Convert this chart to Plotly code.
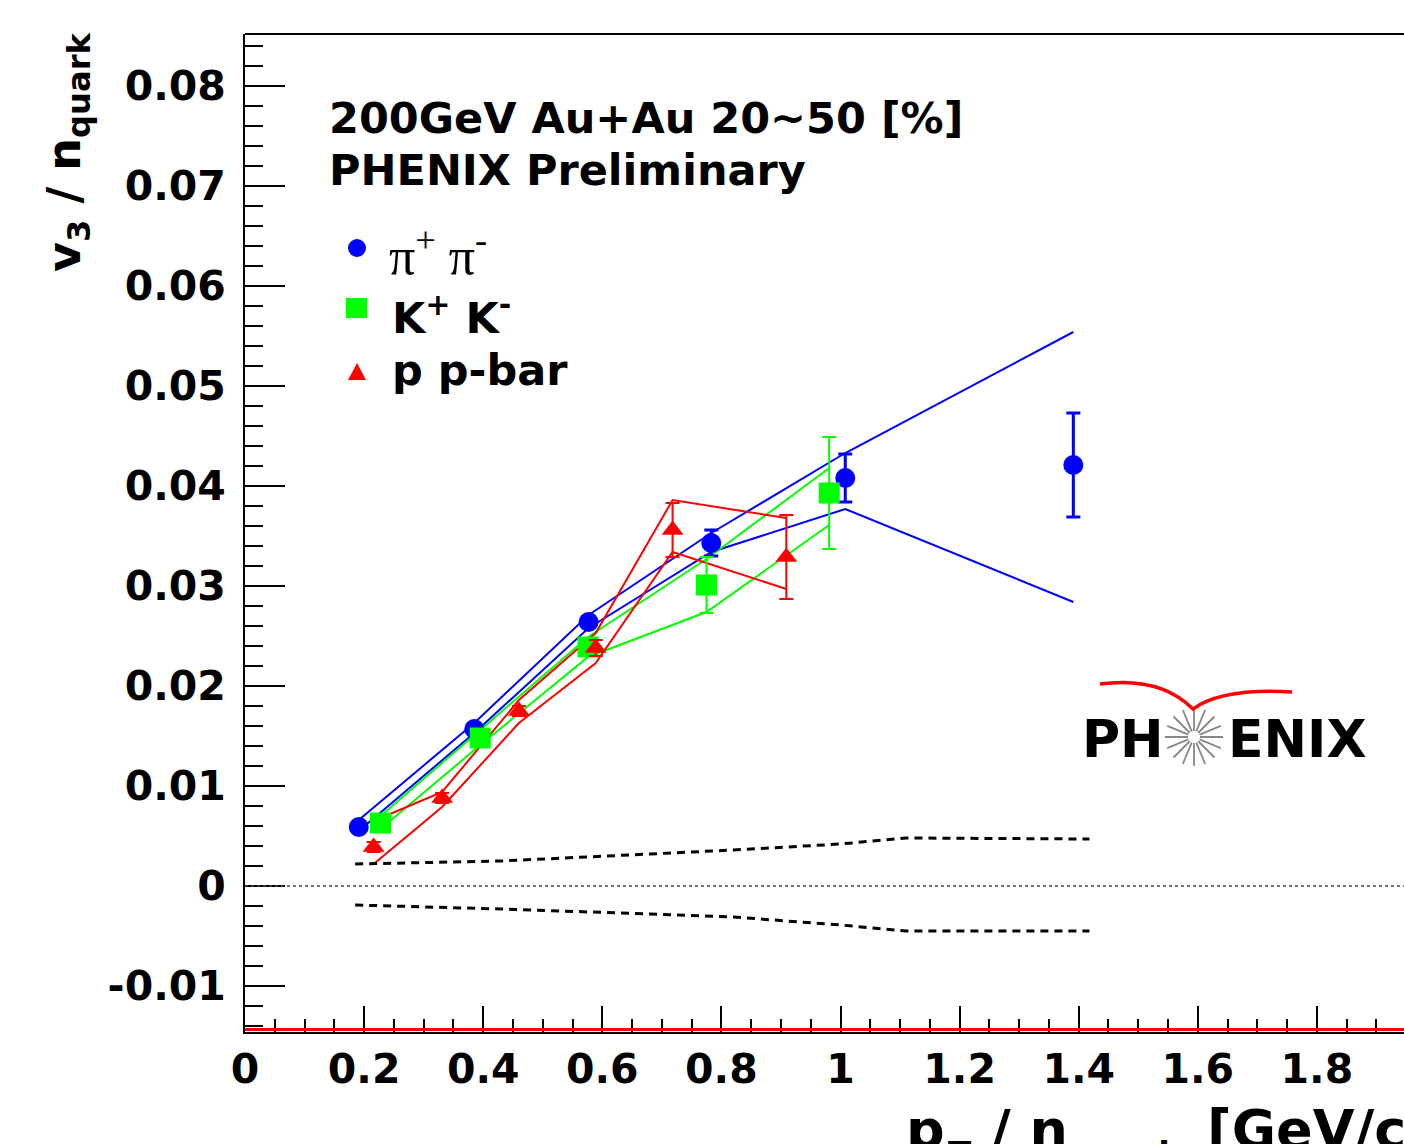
import math
import plotly.graph_objects as go

# ---------------- data ----------------
pi_x = [0.191, 0.385, 0.577, 0.783, 1.008, 1.391]
pi_y = [0.0059, 0.0157, 0.0264, 0.0343, 0.0408, 0.0421]
pi_err = [0.0003, 0.0004, 0.0005, 0.0013, 0.0024, 0.0052]
pi_sys_hi = [0.0066, 0.0163, 0.0271, 0.0353, 0.0433, 0.0554]
pi_sys_lo = [0.0055, 0.0153, 0.0258, 0.0334, 0.0377, 0.0284]

k_x = [0.2275, 0.395, 0.576, 0.775, 0.981]
k_y = [0.0063, 0.0148, 0.0239, 0.0301, 0.0393]
k_err = [0.0004, 0.0005, 0.0008, 0.0028, 0.0056]
k_sys_hi = [0.0070, 0.0156, 0.0249, 0.0327, 0.0418]
k_sys_lo = [0.0057, 0.0141, 0.0229, 0.0274, 0.0361]

p_x = [0.216, 0.331, 0.460, 0.589, 0.718, 0.909]
p_y = [0.0039, 0.0088, 0.0175, 0.0238, 0.0356, 0.0329]
p_err = [0.0005, 0.0005, 0.0005, 0.0008, 0.0027, 0.0042]
p_sys_hi = [0.0065, 0.0094, 0.0186, 0.0253, 0.0386, 0.0368]
p_sys_lo = [0.0022, 0.0079, 0.0163, 0.0223, 0.0334, 0.0297]

rp_x = [0.185, 0.43, 0.68, 0.82, 1.0, 1.11, 1.418]
rp_hi = [0.0022, 0.0025, 0.0032, 0.0036, 0.0042, 0.0048, 0.0047]
rp_lo = [-0.0019, -0.0023, -0.0028, -0.0031, -0.0039, -0.0045, -0.0045]

x_tickvals = [0, 0.2, 0.4, 0.6, 0.8, 1.0, 1.2, 1.4, 1.6, 1.8]
x_ticktext = ["0", "0.2", "0.4", "0.6", "0.8", "1", "1.2", "1.4", "1.6", "1.8"]
y_tickvals = [-0.01, 0, 0.01, 0.02, 0.03, 0.04, 0.05, 0.06, 0.07, 0.08]
y_ticktext = ["-0.01", "0", "0.01", "0.02", "0.03", "0.04", "0.05", "0.06", "0.07", "0.08"]

legend_labels = ["\u03c0<sup>+</sup> \u03c0<sup>-</sup>", "K<sup>+</sup> K<sup>-</sup>", "p p-bar"]

# ---------------- layout geometry (page pixels) ----------------
W, H = 1404, 1144
AX_L, AX_R, AX_T, AX_B = 245, 1404, 34, 1032   # plot area in page pixels
ML, MR, MT, MB = AX_L, W - AX_R, AX_T, H - AX_B
XPPU = 595.5          # pixels per x unit
YPPU = 10000.0        # pixels per y unit
Y_ZERO_PX = 886
X_RANGE = [0, (AX_R - AX_L) / XPPU]
Y_RANGE = [(Y_ZERO_PX - AX_B) / YPPU, (Y_ZERO_PX - AX_T) / YPPU]


def PXp(px):
    return (px - AX_L) / (AX_R - AX_L)


def PYp(py):
    return (AX_B - py) / (AX_B - AX_T)


BLUE, GREEN, RED = "#0000ff", "#00ff00", "#ff0000"
FONT = "DejaVu Sans"

fig = go.Figure()

# systematic bands (polylines)
for xs, hi, lo, col in [(pi_x, pi_sys_hi, pi_sys_lo, BLUE),
                        (k_x, k_sys_hi, k_sys_lo, GREEN),
                        (p_x, p_sys_hi, p_sys_lo, RED)]:
    for arr in (hi, lo):
        fig.add_trace(go.Scatter(x=xs, y=arr, mode="lines",
                                 line=dict(color=col, width=2),
                                 showlegend=False, hoverinfo="skip"))

# reaction-plane systematic dashed lines
for arr in (rp_hi, rp_lo):
    fig.add_trace(go.Scatter(x=rp_x, y=arr, mode="lines",
                             line=dict(color="black", width=3, dash="8px,6px"),
                             showlegend=False, hoverinfo="skip"))

# data points
for xs, ys, es, col, sym, sz, ew in [(pi_x, pi_y, pi_err, BLUE, "circle", 20, 3),
                                     (k_x, k_y, k_err, GREEN, "square", 21, 2),
                                     (p_x, p_y, p_err, RED, "triangle-up", 19, 2)]:
    fig.add_trace(go.Scatter(x=xs, y=ys, mode="markers",
                             marker=dict(color=col, symbol=sym, size=sz, line=dict(width=0)),
                             error_y=dict(type="data", array=es, color=col, thickness=ew, width=7),
                             showlegend=False))

shapes = []
# top frame line
shapes.append(dict(type="line", xref="paper", yref="paper", x0=0, x1=1, y0=1, y1=1,
                   line=dict(color="black", width=2)))
# dotted zero line
shapes.append(dict(type="line", xref="paper", yref="y", x0=0, x1=1, y0=0, y1=0,
                   line=dict(color="#444444", width=1.5, dash="dot")))
# red line along bottom axis
shapes.append(dict(type="line", xref="paper", yref="paper", x0=0, x1=1,
                   y0=PYp(AX_B - 2.5), y1=PYp(AX_B - 2.5), line=dict(color=RED, width=3)))

# legend markers
lx = 357
shapes.append(dict(type="circle", xref="paper", yref="paper", x0=PXp(lx - 9), x1=PXp(lx + 9),
                   y0=PYp(248 + 9), y1=PYp(248 - 9), fillcolor=BLUE, line=dict(width=0)))
shapes.append(dict(type="rect", xref="paper", yref="paper", x0=PXp(lx - 11), x1=PXp(lx + 10),
                   y0=PYp(308 + 10), y1=PYp(308 - 10), fillcolor=GREEN, line=dict(width=0)))
shapes.append(dict(type="path", xref="paper", yref="paper",
                   path="M %f,%f L %f,%f L %f,%f Z" % (PXp(lx - 9), PYp(380), PXp(lx + 9), PYp(380),
                                                       PXp(lx), PYp(363)),
                   fillcolor=RED, line=dict(width=0)))

# PHENIX logo: starburst + red swoosh
cx, cy = 1194, 737
star = ""
for i in range(16):
    a = 2 * math.pi * i / 16
    r0, r1 = 6, 29
    star += "M %f,%f L %f,%f " % (PXp(cx + r0 * math.cos(a)), PYp(cy + r0 * math.sin(a)),
                                   PXp(cx + r1 * math.cos(a)), PYp(cy + r1 * math.sin(a)))
shapes.append(dict(type="path", xref="paper", yref="paper", path=star,
                   line=dict(color="#888888", width=1.8)))
swoosh = "M %f,%f Q %f,%f %f,%f Q %f,%f %f,%f" % (
    PXp(1100), PYp(684), PXp(1160), PYp(676), PXp(1193), PYp(709),
    PXp(1222), PYp(688), PXp(1292), PYp(692))
shapes.append(dict(type="path", xref="paper", yref="paper", path=swoosh,
                   line=dict(color=RED, width=3.5)))

annotations = []


def ann(text, px, py, size, xanchor="left", yanchor="middle", family=FONT, angle=0):
    annotations.append(dict(text=text, x=PXp(px), y=PYp(py), xref="paper", yref="paper",
                            xanchor=xanchor, yanchor=yanchor, showarrow=False,
                            textangle=angle, font=dict(family=family, size=size, color="black")))


def BOLD(s):
    return "<b>" + s + "</b>"


ann(BOLD("200GeV Au+Au 20~50 [%]"), 327, 118, 43)
ann(BOLD("PHENIX Preliminary"), 327, 170, 43)
ann(legend_labels[0], 387, 252, 52, family="Liberation Serif")
ann(BOLD(legend_labels[1]), 390, 315, 43)
ann(BOLD(legend_labels[2]), 390, 370, 43)
ann(BOLD("PH"), 1080, 739, 52)
ann(BOLD("ENIX"), 1226, 739, 52)
# y axis title
ann(BOLD("v<sub>3</sub> / n<sub>quark</sub>"), 67, 152, 46, xanchor="center", angle=-90)
# x axis title (mostly cut off at the bottom edge): main glyphs + lowered subscripts
XT_MID = 1148 - 0.346 * 54
XS_MID = 1166 - 0.346 * 34
ann(BOLD("p"), 904, XT_MID, 54)
ann(BOLD("T"), 946, XS_MID, 34)
ann(BOLD("/ n"), 989, XT_MID, 54)
ann(BOLD("quark"), 1068, XS_MID, 34)
ann(BOLD("[GeV/c]"), 1205, XT_MID, 54)

axis_common = dict(showline=True, linecolor="black", linewidth=2, ticks="inside",
                   tickcolor="black", tickwidth=2, showgrid=False, zeroline=False,
                   tickmode="array", tickfont=dict(family=FONT, size=41, color="black"))

fig.update_layout(
    width=W, height=H, margin=dict(l=ML, r=MR, t=MT, b=MB, pad=0),
    paper_bgcolor="white", plot_bgcolor="white",
    xaxis=dict(range=X_RANGE, tickvals=x_tickvals, ticktext=[BOLD(t) for t in x_ticktext],
               ticklen=26, ticklabelstandoff=0,
               minor=dict(tickmode="linear", tick0=0, dtick=0.05, ticklen=13, ticks="inside",
                          tickcolor="black", tickwidth=2, showgrid=False),
               **axis_common),
    yaxis=dict(range=Y_RANGE, tickvals=y_tickvals, ticktext=[BOLD(t) for t in y_ticktext],
               ticklen=40, ticklabelstandoff=9,
               minor=dict(tickmode="linear", tick0=0, dtick=0.002, ticklen=18, ticks="inside",
                          tickcolor="black", tickwidth=2, showgrid=False),
               **axis_common),
    shapes=shapes, annotations=annotations, showlegend=False,
)

fig.write_html("out.html", config={"displayModeBar": False},
               post_script="document.body.style.margin='0';document.body.style.overflow='hidden';")
